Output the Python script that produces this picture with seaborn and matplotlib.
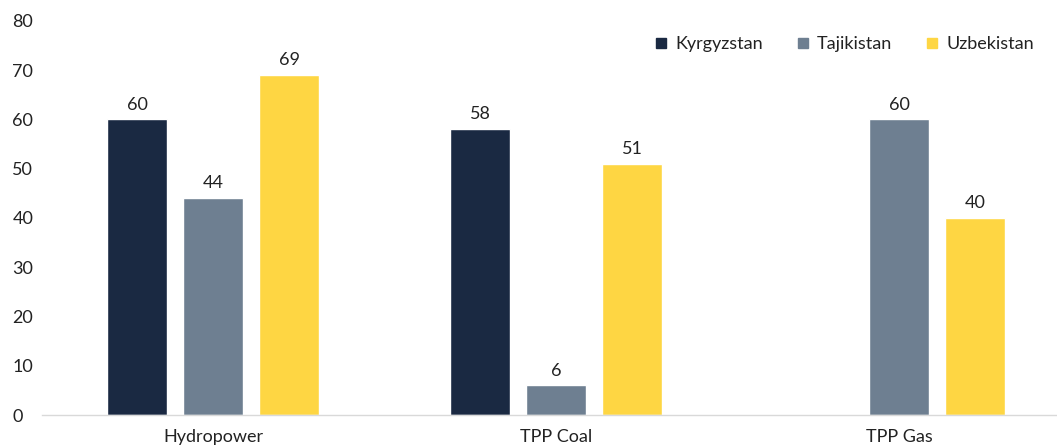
import numpy as np
import pandas as pd
import matplotlib
matplotlib.use("Agg")
import matplotlib.pyplot as plt
import seaborn as sns

categories = ["Hydropower", "TPP Coal", "TPP Gas"]
countries = ["Kyrgyzstan", "Tajikistan", "Uzbekistan"]
kyrgyzstan = [60, 58, np.nan]
tajikistan = [44, 6, 60]
uzbekistan = [69, 51, 40]
colors = ["#1a2942", "#6e7f91", "#fed643"]

df = pd.DataFrame({
    "source": categories * 3,
    "country": [c for c in countries for _ in categories],
    "value": kyrgyzstan + tajikistan + uzbekistan,
})

sns.set_theme(style="white")
plt.rcParams["font.family"] = ["Lato", "DejaVu Sans"]
text_color = "#222222"
fs = 13

fig = plt.figure(figsize=(10.57, 4.45), dpi=100)
# axes bottom at y=415 px, top (80) at y=21 px
ax = fig.add_axes([41.5 / 1057, 1 - 415 / 445, (1057 - 41.5) / 1057, (415 - 21) / 445])

sns.barplot(data=df, x="source", y="value", hue="country", palette=colors,
            width=0.665, gap=0.21, ax=ax, saturation=1, legend=True)

for cont in ax.containers:
    labels = ["" if np.isnan(b.get_height()) else f"{int(b.get_height())}" for b in cont]
    ax.bar_label(cont, labels=labels, padding=5, fontsize=fs, color=text_color)

ax.set_xlim(-0.5, 2.46)
ax.set_ylim(0, 80)
ax.set_yticks(range(0, 81, 10))
ax.set_xlabel("")
ax.set_ylabel("")
for s in ["top", "right", "left"]:
    ax.spines[s].set_visible(False)
ax.spines["bottom"].set_color("#d9d9d9")
ax.spines["bottom"].set_linewidth(1)
ax.tick_params(axis="y", length=0, pad=21, labelsize=fs, labelcolor=text_color)
for lbl in ax.get_yticklabels():
    lbl.set_horizontalalignment("left")
ax.tick_params(axis="x", length=0, pad=10, labelsize=fs, labelcolor=text_color)

handles = [plt.Line2D([], [], marker="s", linestyle="", markersize=7, color=c) for c in colors]
ax.legend(handles, countries, loc="upper right", bbox_to_anchor=(0.9774, 0.962), ncol=3,
          frameon=False, fontsize=fs, handlelength=0.8, handletextpad=0.4,
          columnspacing=1.8, borderpad=0, borderaxespad=0, labelcolor=text_color)

fig.savefig("out.png", dpi=100)
